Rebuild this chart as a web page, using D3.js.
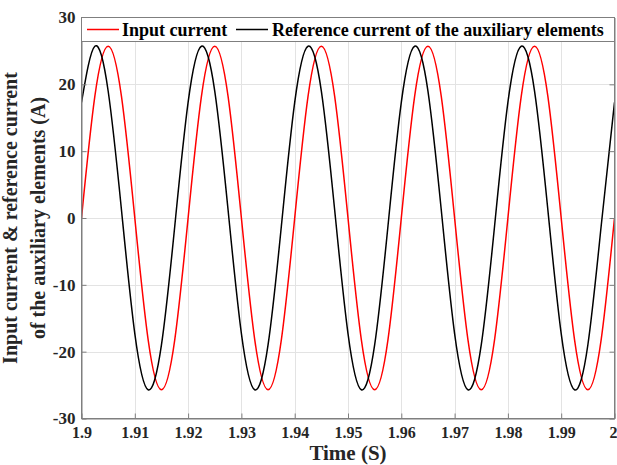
<!DOCTYPE html>
<html>
<head>
<meta charset="utf-8">
<script src="https://cdn.jsdelivr.net/npm/d3@7"></script>
<style>
  html, body { margin: 0; padding: 0; background: #fff; }
  svg { display: block; font-family: "Liberation Serif", "Times New Roman", serif; font-weight: bold; }
</style>
</head>
<body>
<svg id="chart" width="617" height="465"></svg>
<script>
// Sample times (s), one sample every 1/8 of a 50 Hz period
const time = [
  1.9, 1.9025, 1.905, 1.9075, 1.91, 1.9125, 1.915, 1.9175,
  1.92, 1.9225, 1.925, 1.9275, 1.93, 1.9325, 1.935, 1.9375,
  1.94, 1.9425, 1.945, 1.9475, 1.95, 1.9525, 1.955, 1.9575,
  1.96, 1.9625, 1.965, 1.9675, 1.97, 1.9725, 1.975, 1.9775,
  1.98, 1.9825, 1.985, 1.9875, 1.99, 1.9925, 1.995, 1.9975,
  2.0
];

// Input current (A)
const inputCurrent = [
  0, 18.2, 25.7, 18.2, 0, -18.2, -25.7, -18.2,
  0, 18.2, 25.7, 18.2, 0, -18.2, -25.7, -18.2,
  0, 18.2, 25.7, 18.2, 0, -18.2, -25.7, -18.2,
  0, 18.2, 25.7, 18.2, 0, -18.2, -25.7, -18.2,
  0, 18.2, 25.7, 18.2, 0, -18.2, -25.7, -18.2,
  0
];

// Reference current of the auxiliary elements (A)
const referenceCurrent = [
  17.3, 25.7, 19.0, 1.2, -17.3, -25.7, -19.0, -1.2,
  17.3, 25.7, 19.0, 1.2, -17.3, -25.7, -19.0, -1.2,
  17.3, 25.7, 19.0, 1.2, -17.3, -25.7, -19.0, -1.2,
  17.3, 25.7, 19.0, 1.2, -17.3, -25.7, -19.0, -1.2,
  17.3, 25.7, 19.0, 1.2, -17.3, -25.7, -19.0, -1.2,
  17.3
];

const xTicks = [1.9, 1.91, 1.92, 1.93, 1.94, 1.95, 1.96, 1.97, 1.98, 1.99, 2.0];
const xTickLabels = ["1.9", "1.91", "1.92", "1.93", "1.94", "1.95", "1.96", "1.97", "1.98", "1.99", "2"];
const yTicks = [-30, -20, -10, 0, 10, 20, 30];
const yTickLabels = ["-30", "-20", "-10", "0", "10", "20", "30"];

const seriesNames = ["Input current", "Reference current of the auxiliary elements"];
const seriesColors = ["#ff0000", "#000000"];
const xTitle = "Time (S)";
const yTitleLines = ["Input current & reference current", "of the auxiliary elements (A)"];

const svg = d3.select("#chart");
const plotLeft = 81.5, plotRight = 614.5, plotTop = 17.5, plotBottom = 418.5;
const axisGray = "#7f7f7f";

const x = d3.scaleLinear().domain([1.9, 2.0]).range([plotLeft, plotRight]);
const y = d3.scaleLinear().domain([-30, 30]).range([plotBottom, plotTop]);

// grid
const grid = svg.append("g").attr("stroke", "#e3e3e3").attr("stroke-width", 1);
grid.selectAll("line.gx").data(xTicks.slice(1, -1)).join("line")
  .attr("x1", d => Math.round(x(d)) + 0.5).attr("x2", d => Math.round(x(d)) + 0.5)
  .attr("y1", plotTop).attr("y2", plotBottom);
grid.selectAll("line.gy").data(yTicks.slice(1, -1)).join("line")
  .attr("y1", d => Math.round(y(d)) + 0.5).attr("y2", d => Math.round(y(d)) + 0.5)
  .attr("x1", plotLeft).attr("x2", plotRight);

// curves
svg.append("clipPath").attr("id", "plotClip").append("rect")
  .attr("x", plotLeft).attr("y", plotTop)
  .attr("width", plotRight - plotLeft).attr("height", plotBottom - plotTop);

const line = d3.line().x(d => x(d[0])).y(d => y(d[1])).curve(d3.curveNatural);
const series = [inputCurrent, referenceCurrent];
svg.append("g").attr("clip-path", "url(#plotClip)")
  .selectAll("path").data(series).join("path")
  .attr("d", vals => line(vals.map((v, i) => [time[i], v])))
  .attr("fill", "none")
  .attr("stroke", (d, i) => seriesColors[i])
  .attr("stroke-width", 1.5);

// axes
const xAxis = d3.axisBottom(x).tickValues(xTicks)
  .tickFormat((d, i) => xTickLabels[i]).tickSizeInner(-5).tickSizeOuter(0).tickPadding(8);
const gx = svg.append("g").attr("transform", `translate(0,${plotBottom})`).call(xAxis);
gx.selectAll("text").attr("font-size", 16).attr("fill", "#262626")
  .attr("font-family", "Liberation Serif, serif").attr("font-weight", "bold");
// keep the last label inside the window edge
gx.selectAll(".tick:last-of-type text").attr("text-anchor", "end").attr("x", 2.5);

const yAxis = d3.axisLeft(y).tickValues(yTicks)
  .tickFormat((d, i) => yTickLabels[i]).tickSizeInner(-5).tickSizeOuter(0).tickPadding(6);
const gy = svg.append("g").attr("transform", `translate(${plotLeft},0)`).call(yAxis);
gy.selectAll("text").attr("font-size", 17).attr("fill", "#262626")
  .attr("font-family", "Liberation Serif, serif").attr("font-weight", "bold");

// mirrored ticks on the right side
const yAxisR = d3.axisRight(y).tickValues(yTicks).tickFormat("").tickSizeInner(-5).tickSizeOuter(0);
svg.append("g").attr("transform", `translate(${plotRight},0)`).call(yAxisR);

svg.selectAll(".domain, .tick line").attr("stroke", axisGray);

// box
svg.append("rect").attr("x", plotLeft).attr("y", plotTop)
  .attr("width", plotRight - plotLeft).attr("height", plotBottom - plotTop)
  .attr("fill", "none").attr("stroke", axisGray);

// axis titles
svg.append("text").attr("x", (plotLeft + plotRight) / 2).attr("y", 460)
  .attr("text-anchor", "middle").attr("font-size", 21).attr("fill", "#262626")
  .text(xTitle);

const yt = svg.append("text")
  .attr("transform", `translate(0,${(plotTop + plotBottom) / 2}) rotate(-90)`)
  .attr("text-anchor", "middle").attr("font-size", 20).attr("fill", "#262626");
yt.selectAll("tspan").data(yTitleLines).join("tspan")
  .attr("x", 0).attr("y", (d, i) => i === 0 ? 17 : 45).text(d => d);

// legend
const legend = svg.append("g");
legend.append("rect").attr("x", plotLeft).attr("y", plotTop)
  .attr("width", plotRight - plotLeft).attr("height", 24)
  .attr("fill", "#fff").attr("stroke", axisGray);
const legendItems = [{ lx: 87, tx: 122 }, { lx: 236, tx: 272 }];
legendItems.forEach((it, i) => {
  legend.append("line").attr("x1", it.lx).attr("x2", it.lx + 32)
    .attr("y1", plotTop + 12).attr("y2", plotTop + 12)
    .attr("stroke", seriesColors[i]).attr("stroke-width", 1.5);
  legend.append("text").attr("x", it.tx).attr("y", 36)
    .attr("font-size", 18).attr("fill", "#000").text(seriesNames[i]);
});
</script>
</body>
</html>
